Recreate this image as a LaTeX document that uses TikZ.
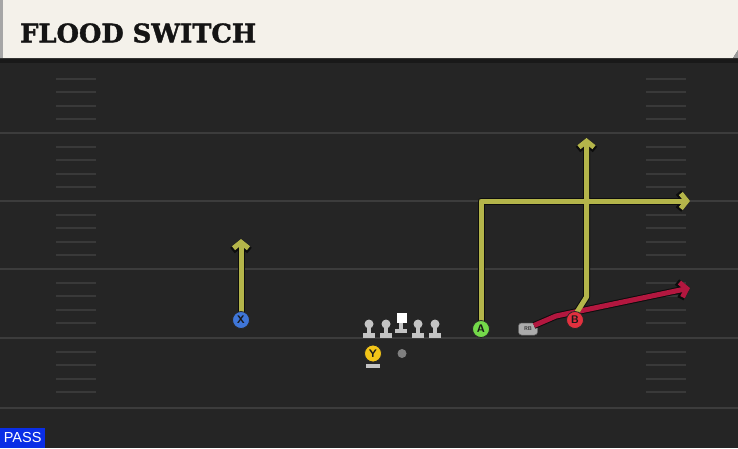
\documentclass[tikz,border=0pt]{standalone}
\usepackage{fontspec}
\setmainfont{DejaVu Sans}
\newfontfamily\titlefont{DejaVu Serif}[FakeBold=1.5]
\newfontfamily\passfont{Liberation Sans}
\usetikzlibrary{arrows.meta,calc}
\definecolor{field}{HTML}{252525}
\definecolor{yardc}{HTML}{3C3C3C}
\definecolor{hashc}{HTML}{393939}
\definecolor{headc}{HTML}{F4F1EA}
\definecolor{routey}{HTML}{B4B54A}
\definecolor{router}{HTML}{B3173F}
\definecolor{pblue}{HTML}{3F76D8}
\definecolor{pgreen}{HTML}{74D94A}
\definecolor{pred}{HTML}{E2313F}
\definecolor{pyellow}{HTML}{F2C418}
\definecolor{lineman}{HTML}{C4C4C4}
\definecolor{passblue}{HTML}{0A2EE6}
\tikzset{
  yardline/.style={draw=yardc, line width=2pt},
  hashmark/.style={draw=hashc, line width=2pt},
  player/.style={circle, draw=black!85, line width=0.8pt, minimum size=17pt, inner sep=0pt,
    font=\sffamily\bfseries\fontsize{11}{11}\selectfont, text=black!90},
  routeout/.style={draw=black!95, line width=7pt, line join=round,
    -{Straight Barb[length=7pt,width=17pt]}},
  routein/.style={line width=5pt, line join=round,
    -{Straight Barb[length=6pt,width=15pt]}},
}
\begin{document}
\begin{tikzpicture}[x=1pt,y=-1pt]
\useasboundingbox (0,0) rectangle (738,448);
\fill[field] (0,0) rectangle (738,448);
% yard lines
\foreach \yy in {133,201,269,338,408} \draw[yardline] (0,\yy) -- (738,\yy);
% hash marks
\foreach \b in {65,133,201,269,338} {
  \foreach \i in {1,2,3,4} {
    \draw[hashmark] (56,{\b+13.6*\i}) -- (96,{\b+13.6*\i});
    \draw[hashmark] (646,{\b+13.6*\i}) -- (686,{\b+13.6*\i});
  }
}
% header
\fill[black!90] (0,57) rectangle (738,63);
\fill[headc] (0,0) -- (738,0) -- (738,50) -- (733,58) -- (0,58) -- cycle;
\fill[black!35] (0,0) rectangle (2.5,58);
\fill[black!40] (733,58) -- (738,50) -- (738,58) -- cycle;
\node[anchor=south west, inner sep=0pt, text=black!92] (title) at (20,43)
  {\resizebox{236pt}{!}{\titlefont\bfseries FLOOD SWITCH}};
% PASS label
\node[anchor=south west, fill=passblue, text=white, inner sep=0pt,
  minimum width=45pt, minimum height=20pt, font=\passfont\fontsize{14.5}{14.5}\selectfont] (pass) at (0,448) {PASS};
% offensive line
\foreach \n/\xx in {lt/369,lg/386,rg/418,rt/435} {
  \fill[lineman] (\xx-6,333) rectangle (\xx+6,337.5);
  \fill[lineman] (\xx-2.2,326) rectangle (\xx+2.2,334);
  \node[circle, fill=lineman, minimum size=9pt, inner sep=0pt] (\n) at (\xx,324) {};
}
\fill[lineman] (395,328.5) rectangle (407,332.5);
\fill[lineman] (399,322) rectangle (403,329);
\node[rectangle, fill=white, minimum size=10pt, inner sep=0pt] (c) at (401.5,318) {};
% QB
\node[circle, fill=black!50, minimum size=9pt, inner sep=0pt] (qb) at (402,353.5) {};
% Y
\fill[lineman] (366,363.5) rectangle (380,368);
\node[player, fill=pyellow] (y) at (373,353.5) {Y};
% RB
\node[rounded corners=3pt, fill=black!33, draw=black!60, line width=0.5pt, minimum width=19pt, minimum height=12pt,
  inner sep=0pt, font=\sffamily\bfseries\fontsize{5.5}{5.5}\selectfont, text=black!80] (rb) at (528,329) {RB};
% coordinates for routes
\coordinate (xend) at (241,239);
\coordinate (acorner) at (481,201);
\coordinate (aend) at (690,201);
\coordinate (bbend) at (586.5,297);
\coordinate (bend) at (586.5,138);
\coordinate (rmid) at (556,316);
\coordinate (rend) at (690,288);
\coordinate (xstart) at (241,320);
\coordinate (astart) at (481,329);
\coordinate (bstart) at (575,320);
\coordinate (btop) at (577,312);
\coordinate (rbstart) at (534,325.5);
% routes: outlines
\draw[routeout] (xstart) -- (xend);
\draw[routeout] (astart) -- (acorner) -- (aend);
\draw[routeout] (btop) -- (bbend) -- (bend);
\draw[routeout] (rbstart) -- (rmid) -- (rend);
% routes: colour
\draw[routein, draw=routey] (xstart) -- (xend);
\draw[routein, draw=routey] (astart) -- (acorner) -- (aend);
\draw[routein, draw=router] (rbstart) -- (rmid) -- (rend);
\draw[routein, draw=routey] (btop) -- (bbend) -- (bend);
% skill players
\node[player, fill=pblue] (x) at (xstart) {X};
\node[player, fill=pgreen] (a) at (astart) {A};
\node[player, fill=pred] (b) at (bstart) {B};
\end{tikzpicture}
\end{document}
